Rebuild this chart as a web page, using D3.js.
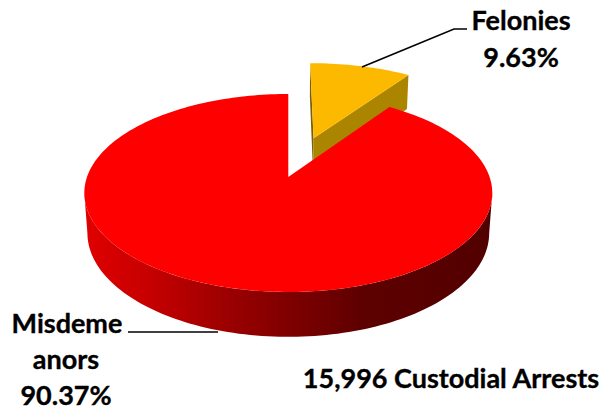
<!DOCTYPE html>
<html>
<head>
<meta charset="utf-8">
<script src="https://cdnjs.cloudflare.com/ajax/libs/d3/7.8.5/d3.min.js"></script>
<style>
html,body{margin:0;padding:0;background:#fff;}
svg{display:block;}
text{font-family:Lato,"Noto Sans",sans-serif;font-weight:700;fill:#000;stroke:#000;stroke-width:0.35px;font-size:27px;}
</style>
</head>
<body>
<svg id="chart" width="602" height="410"></svg>
<script>
const categories = ["Felonies", "Misdemeanors"];
const shares = [9.63, 90.37];
const totalLabel = "15,996 Custodial Arrests";

const svg = d3.select("#chart");
const cx = 288.3, cy = 177, a = 201.3, b = 96.4, p = 0.1616, q = 0.015, h = 40;
const explodeBy = 0.45, explodedRadius = 1.03;

// perspective projection of a pie-disc point: u right, v toward viewer, z=0 top / 1 bottom
function project(u, v, z) {
  const d = 1 - p * v + q * z;
  return [cx + a * u / d, cy + (b * v + h * z) / d];
}
const pie = d3.pie().sort(null).value(d => d)(shares);
const line = d3.line();

function rim(start, end, z, ox, oy, r = 1) {
  const n = Math.max(2, Math.round(Math.abs(end - start) * 40));
  return d3.range(n + 1).map(i => {
    const t = start + (end - start) * i / n;
    return project(ox + r * Math.sin(t), oy - r * Math.cos(t), z);
  });
}

const defs = svg.append("defs");
const grad = defs.append("linearGradient").attr("id", "wall")
  .attr("gradientUnits", "userSpaceOnUse").attr("x1", 84).attr("x2", 492).attr("y1", 0).attr("y2", 0);
[[0, "#e00000"], [0.15, "#c80000"], [0.35, "#9c0000"], [0.52, "#7c0000"], [0.68, "#5e0000"], [1, "#520000"]]
  .forEach(s => grad.append("stop").attr("offset", s[0]).attr("stop-color", s[1]));

// Felonies: exploded slice
const fel = pie[0];
const mid = (fel.startAngle + fel.endAngle) / 2;
const ox = explodeBy * Math.sin(mid), oy = -explodeBy * Math.cos(mid);
const R = explodedRadius;
const c0 = project(ox, oy, 0), c1 = project(ox, oy, 1);
const e0 = project(ox + R * Math.sin(fel.endAngle), oy - R * Math.cos(fel.endAngle), 0);
const e1 = project(ox + R * Math.sin(fel.endAngle), oy - R * Math.cos(fel.endAngle), 1);
const s0 = project(ox + R * Math.sin(fel.startAngle), oy - R * Math.cos(fel.startAngle), 0);
const s1 = project(ox + R * Math.sin(fel.startAngle), oy - R * Math.cos(fel.startAngle), 1);
svg.append("path").attr("d", line([s0, s1, c1, c0])).attr("fill", "#7a6000");
svg.append("path").attr("d", line([c0, e0, e1, c1])).attr("fill", "#ac8500");
svg.append("path").attr("d", line([c0, ...rim(fel.startAngle, fel.endAngle, 0, ox, oy, R)]) + "Z").attr("fill", "#fdb900");

// Misdemeanors: front wall, then top face
const mis = pie[1];
const sil = Math.asin(p);
const wallStart = Math.PI / 2 + sil, wallEnd = 3 * Math.PI / 2 - sil;
const wall = [...rim(wallStart, wallEnd, 0, 0, 0), ...rim(wallEnd, wallStart, 1, 0, 0)];
svg.append("path").attr("d", line(wall) + "Z").attr("fill", "url(#wall)");
svg.append("path").attr("d", line([project(0, 0, 0), ...rim(mis.startAngle, mis.endAngle, 0, 0, 0)]) + "Z").attr("fill", "#fe0000");

// Leader lines
const leaders = [
  [[362, 67], [454, 29], [467, 29]],
  [[128, 332], [218, 332]]
];
leaders.forEach(l => svg.append("path").attr("d", line(l)).attr("fill", "none").attr("stroke", "#000").attr("stroke-width", 1.6));

// Labels
const labels = [
  ["Felonies", 521, 30], ["9.63%", 521, 67],
  ["Misdeme", 67, 333], ["anors", 66, 369], ["90.37%", 66, 405],
  [totalLabel, 451, 388]
];
svg.selectAll("text.l").data(labels).enter().append("text").attr("class", "l")
  .attr("x", d => d[1]).attr("y", d => d[2]).attr("text-anchor", "middle").text(d => d[0]);
</script>
</body>
</html>
